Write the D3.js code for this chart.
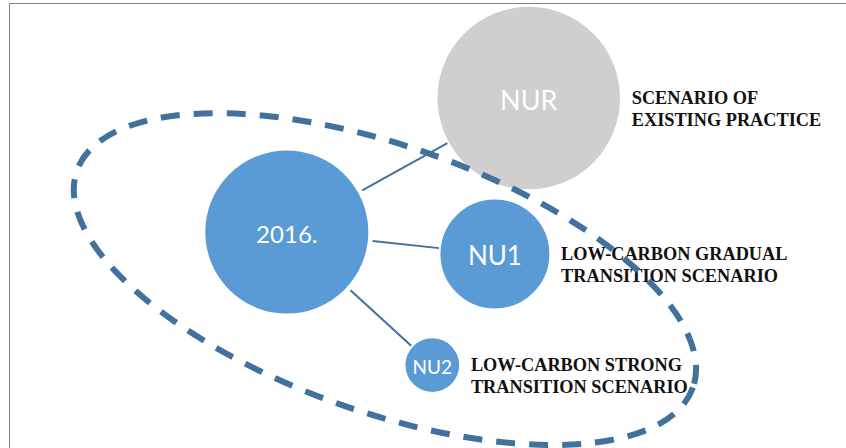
<!DOCTYPE html>
<html>
  <head>
    <meta charset="utf-8">
    <title>Scenarios</title>
    <script src="https://d3js.org/d3.v7.min.js"></script>
    <style>
      body { margin: 0; background: #fff; }
      .name { font-family: Lato, "Open Sans", sans-serif; fill: #fff; text-anchor: middle; dominant-baseline: central; }
      .label { font-family: "Liberation Serif", "Times New Roman", serif; font-weight: bold; font-size: 18.3px; fill: #111; }
      .link { stroke: #41719c; stroke-width: 2; }
      .frame { stroke: #808080; stroke-width: 1; }
      #ring { fill: none; stroke: #41719c; stroke-width: 6; stroke-dasharray: 19 14; }
    </style>
  </head>
  <body>
    <svg id="chart" width="846" height="448"></svg>
    <script>
      // data (positions in % of the page, size as relative value)
      names = ["2016.", "NUR", "NU1", "NU2"];
      posX = [33.9, 62.5, 58.5, 51.1];
      posY = [51.8, 21.9, 56.7, 81.5];
      sizes = [80, 100, 36, 9];
      fills = ["#5b9bd5", "#d0cece", "#5b9bd5", "#5b9bd5"];
      fontSizes = [24, 27, 26, 19];
      labels = [
        [],
        ["SCENARIO OF", "EXISTING PRACTICE"],
        ["LOW-CARBON GRADUAL", "TRANSITION SCENARIO"],
        ["LOW-CARBON STRONG", "TRANSITION SCENARIO"]
      ];
      // dashed ring round the low-carbon group: centre, half-axes, tilt
      ring = { x: 45.5, y: 62.3, rx: 38.6, ry: 29.7, tilt: 19.4 };

      nodes = names.map(function(n, i) {
        return { name: n, x: posX[i], y: posY[i], size: sizes[i], fill: fills[i], fs: fontSizes[i], label: labels[i] };
      });
      links = nodes.slice(1).map(function(d) { return { source: nodes[0], target: d }; });

      width = 846;
      height = 448;
      x = d3.scaleLinear().domain([0, 100]).range([0, width]);
      y = d3.scaleLinear().domain([0, 100]).range([0, height]);
      r = d3.scaleSqrt().domain([0, 100]).range([0, 92]);

      chart = d3.select("#chart");

      // frame
      chart.append("line").classed("frame", true)
        .attr("x1", 9.5).attr("y1", 3.5).attr("x2", width).attr("y2", 3.5);
      chart.append("line").classed("frame", true)
        .attr("x1", 9.5).attr("y1", 3.5).attr("x2", 9.5).attr("y2", height);

      // connectors, trimmed to the circle edges
      chart.selectAll(".link")
          .data(links)
        .enter().append("line")
          .classed("link", true)
          .each(function(d) {
            var x0 = x(d.source.x), y0 = y(d.source.y), x1 = x(d.target.x), y1 = y(d.target.y);
            var len = Math.hypot(x1 - x0, y1 - y0), ux = (x1 - x0) / len, uy = (y1 - y0) / len;
            var a = r(d.source.size) + 4, b = len - r(d.target.size) - 1;
            d3.select(this)
              .attr("x1", x0 + ux * a).attr("y1", y0 + uy * a)
              .attr("x2", x0 + ux * b).attr("y2", y0 + uy * b);
          });

      // bubbles
      node = chart.selectAll(".node")
          .data(nodes)
        .enter().append("g")
          .classed("node", true)
          .attr("transform", function(d) { return "translate(" + x(d.x) + "," + y(d.y) + ")"; });
      node.append("circle")
        .attr("r", function(d) { return r(d.size); })
        .attr("fill", function(d) { return d.fill; })
        .attr("stroke", "#fff")
        .attr("stroke-width", 1.5);
      node.append("text")
        .classed("name", true)
        .attr("y", 1)
        .style("font-size", function(d) { return d.fs + "px"; })
        .text(function(d) { return d.name; });

      // scenario labels, right of each bubble
      label = chart.selectAll(".label")
          .data(nodes.filter(function(d) { return d.label.length; }))
        .enter().append("text")
          .classed("label", true)
          .attr("y", function(d) { return y(d.y) + 6; });
      label.selectAll("tspan")
          .data(function(d) { return d.label.map(function(t) { return { t: t, n: d }; }); })
        .enter().append("tspan")
          .attr("x", function(d) { return x(d.n.x) + r(d.n.size) + 11; })
          .attr("dy", function(d, i) { return i ? 22 : 0; })
          .text(function(d) { return d.t; });

      // dashed ellipse on top
      chart.append("ellipse")
        .attr("id", "ring")
        .attr("cx", 0).attr("cy", 0)
        .attr("rx", x(ring.rx))
        .attr("ry", y(ring.ry))
        .attr("transform", "translate(" + x(ring.x) + "," + y(ring.y) + ") rotate(" + ring.tilt + ")");
    </script>
  </body>
</html>
